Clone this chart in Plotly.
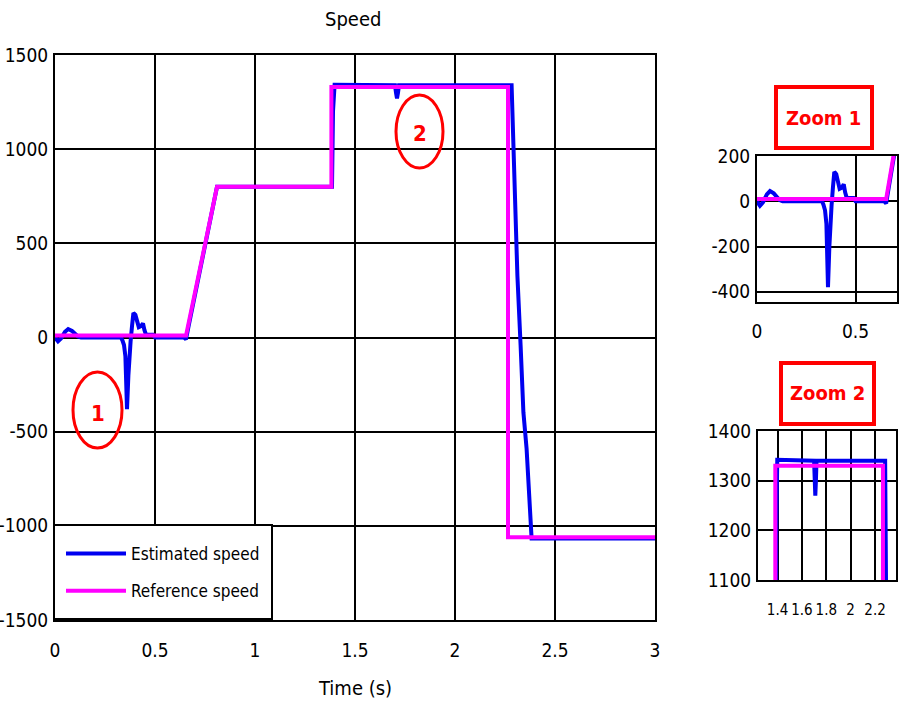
import plotly.graph_objects as go

# ---------------- data ----------------
ref_t = [0.0, 0.655, 0.81, 1.382, 1.382, 2.265, 2.265, 3.0]
ref_v = [10, 10, 800, 800, 1330, 1330, -1060, -1060]

est_t = [0.0, 0.005, 0.015, 0.03, 0.05, 0.066, 0.085, 0.10, 0.115, 0.13,
         0.33, 0.337, 0.345, 0.352, 0.360, 0.367, 0.372, 0.378, 0.385, 0.392,
         0.402, 0.41, 0.419, 0.43, 0.44, 0.447, 0.455, 0.49, 0.50,
         0.645, 0.655, 0.668, 0.81, 1.385, 1.39, 1.398,
         1.70, 1.705, 1.71, 1.715, 1.72,
         2.283, 2.292, 2.30, 2.312, 2.328, 2.342, 2.358, 2.375, 2.383, 3.0]
est_v = [0, -10, -20, -5, 30, 45, 35, 20, 5, 0,
         0, -15, -40, -100, -380, -200, -60, -20, 60, 130,
         120, 90, 55, 60, 75, 40, 15, 15, 0,
         0, -10, 60, 800, 800, 1200, 1342,
         1340, 1300, 1270, 1300, 1340,
         1340, 996, 661, 328, -42, -397, -591, -961, -1067, -1067]

main_xticks = [0, 0.5, 1, 1.5, 2, 2.5, 3]
main_xlabels = ["0", "0.5", "1", "1.5", "2", "2.5", "3"]
main_yticks = [-1500, -1000, -500, 0, 500, 1000, 1500]
main_ylabels = ["-1500", "-1000", "-500", "0", "500", "1000", "1500"]
z1_xticks = [0, 0.5]
z1_xlabels = ["0", "0.5"]
z1_yticks = [-400, -200, 0, 200]
z1_ylabels = ["-400", "-200", "0", "200"]
z2_xticks = [1.4, 1.6, 1.8, 2.0, 2.2]
z2_xlabels = ["1.4", "1.6", "1.8", "2", "2.2"]
z2_yticks = [1100, 1200, 1300, 1400]
z2_ylabels = ["1100", "1200", "1300", "1400"]

# ---------------- figure ----------------
W, H = 913, 708
FONT = "DejaVu Sans Condensed, Liberation Sans Narrow, Liberation Sans, sans-serif"
BLUE = "#0000F0"
MAG = "#FF00FF"
RED = "#FF0000"
FS = 19

def px(x):
    return x / W

def py(y):
    return 1 - y / H

fig = go.Figure()

for i, sfx in enumerate(["", "2", "3"]):
    fig.add_trace(go.Scatter(x=est_t, y=est_v, mode="lines", name="Estimated speed",
                             line=dict(color=BLUE, width=4), showlegend=(i == 0),
                             legendgroup="est", xaxis="x" + sfx, yaxis="y" + sfx))
    fig.add_trace(go.Scatter(x=ref_t, y=ref_v, mode="lines", name="Reference speed",
                             line=dict(color=MAG, width=4), showlegend=(i == 0),
                             legendgroup="ref", xaxis="x" + sfx, yaxis="y" + sfx))

def axis(domain, rng, tickvals, ticktext, anchor, tl, fs=FS):
    return dict(domain=domain, range=rng, tickvals=tickvals, ticktext=ticktext,
                showgrid=True, gridcolor="black", gridwidth=2, showline=True,
                linecolor="black", linewidth=2, mirror=True, zeroline=False,
                ticks="outside", ticklen=tl, tickcolor="rgba(0,0,0,0)",
                tickangle=0, automargin=False,
                tickfont=dict(family=FONT, size=fs, color="black"), anchor=anchor)

fig.update_layout(
    width=W, height=H, margin=dict(l=0, r=0, t=0, b=0, autoexpand=False),
    paper_bgcolor="white", plot_bgcolor="white",
    xaxis=axis([px(55), px(655)], [0, 3], main_xticks, main_xlabels, "y", 12),
    yaxis=axis([py(620), py(55)], [-1500, 1500], main_yticks, main_ylabels, "x", 1),
    xaxis2=axis([px(757), px(897)], [0, 0.71], z1_xticks, z1_xlabels, "y2", 11),
    yaxis2=axis([py(302), py(156)], [-445, 200], z1_yticks, z1_ylabels, "x2", 1),
    xaxis3=axis([px(758), px(896)], [1.24, 2.372], z2_xticks, z2_xlabels, "y3", 15, 15),
    yaxis3=axis([py(580), py(431)], [1100, 1400], z2_yticks, z2_ylabels, "x3", 1),
    legend=dict(x=px(61), y=py(536), xanchor="left", yanchor="top",
                bgcolor="rgba(0,0,0,0)", borderwidth=0,
                font=dict(family=FONT, size=17, color="black"),
                itemwidth=60, traceorder="grouped", tracegroupgap=12),
    showlegend=True,
)

def note(text, x, y, color="black", size=20):
    return dict(text=text, x=px(x), y=py(y), xref="paper", yref="paper",
                xanchor="center", yanchor="middle", showarrow=False,
                font=dict(family=FONT, size=size, color=color))

annotations = [
    note("Speed", 353, 19),
    note("Time (s)", 355, 688),
    note("<b>1</b>", 98, 413, RED, 22),
    note("<b>2</b>", 420, 133, RED, 22),
    note("<b>Zoom 1</b>", 823, 118, RED),
    note("<b>Zoom 2</b>", 827, 393, RED),
]
fig.update_layout(annotations=annotations)

shapes = [
    dict(type="circle", xref="paper", yref="paper", x0=px(73), x1=px(122),
         y0=py(448), y1=py(372), line=dict(color=RED, width=3)),
    dict(type="circle", xref="paper", yref="paper", x0=px(396), x1=px(443),
         y0=py(168), y1=py(95), line=dict(color=RED, width=3)),
    dict(type="rect", xref="paper", yref="paper", x0=px(776), x1=px(872),
         y0=py(148), y1=py(87), line=dict(color=RED, width=4)),
    dict(type="rect", xref="paper", yref="paper", x0=px(781), x1=px(874),
         y0=py(424), y1=py(363), line=dict(color=RED, width=4)),
    # legend frame
    dict(type="rect", xref="paper", yref="paper", x0=px(54), x1=px(272),
         y0=py(619), y1=py(525), layer="above", fillcolor="white",
         line=dict(color="black", width=2)),
]
fig.update_layout(shapes=shapes)

fig.write_html("out.html", config={"displayModeBar": False},
               post_script="document.body.style.margin='0';")
